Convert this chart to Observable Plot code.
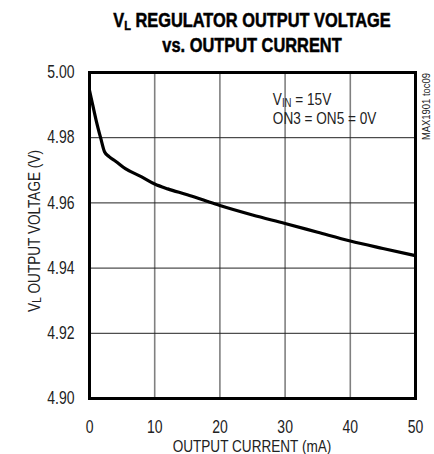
<!DOCTYPE html>
<html><head><meta charset="utf-8">
<script src="https://cdn.jsdelivr.net/npm/d3@7"></script>
<script src="https://cdn.jsdelivr.net/npm/@observablehq/plot@0.6"></script>
<style>
body{margin:0;background:#fff;}
#title{width:434px;height:62px;box-sizing:border-box;padding:7.5px 0 0 70px;text-align:center;font-family:"Liberation Sans",Arial,sans-serif;font-weight:bold;font-size:19.5px;line-height:25px;color:#000;transform:scaleX(0.84);transform-origin:252px 0;-webkit-text-stroke:0.5px #000;white-space:nowrap;}
#title sub{font-size:13px;vertical-align:-3px;line-height:0;}
</style></head><body>
<div id="title">V<sub>L</sub> REGULATOR OUTPUT VOLTAGE<br>vs. OUTPUT CURRENT</div>
<div id="chart"></div>
<script>
// Output current (mA) and V_L output voltage (V)
const currentMA = [0, 0.5, 1, 1.7, 2.3, 3, 4, 5.5, 8, 10, 12, 15, 18, 20, 25, 30, 35, 40, 45, 50];
const voltageV  = [4.9945, 4.9900, 4.9855, 4.9800, 4.9757, 4.9742, 4.9728, 4.9705, 4.9680, 4.9658, 4.9643, 4.9625, 4.9605, 4.9592, 4.9563, 4.9537, 4.9510, 4.9483, 4.9460, 4.9438];
const xTicks = [0, 10, 20, 30, 40, 50];
const yTicks = [4.90, 4.92, 4.94, 4.96, 4.98, 5.00];
const xLabel = "OUTPUT CURRENT (mA)";
const yLabelMain = "V", yLabelSub = "L", yLabelRest = " OUTPUT VOLTAGE (V)";
const noteLine1 = ["V", "IN", " = 15V"];
const noteLine2 = "ON3 = ON5 = 0V";
const noteAt = {x: 28.2, y1: 4.9899, y2: 4.9841};
const figId = "MAX1901 toc09";

const data = currentMA.map((c, i) => ({c, v: voltageV[i]}));
const F = '"Liberation Sans",Arial,sans-serif';
const K = 0.8; // horizontal condensing of the text
const W = 434, H = 392, mT = 10, mB = 56, mL = 89, mR = 19;

const plot = Plot.plot({
  width: W, height: H, marginTop: mT, marginBottom: mB, marginLeft: mL, marginRight: mR,
  style: {fontFamily: F, fontSize: "17px", color: "#222", background: "#fff"},
  x: {domain: [0, 50], ticks: xTicks, label: null},
  y: {domain: [4.90, 5.00], ticks: yTicks, label: null},
  marks: [
    Plot.gridX(xTicks, {stroke: "#808080", strokeWidth: 1.6, strokeOpacity: 1}),
    Plot.gridY(yTicks, {stroke: "#222", strokeWidth: 1, strokeOpacity: 1}),
    Plot.line(data, {x: "c", y: "v", stroke: "#000", strokeWidth: 3.2, curve: "monotone-x"}),
    Plot.frame({stroke: "#000", strokeWidth: 3}),
    Plot.axisX(xTicks, {tickSize: 0, tickPadding: 17, dy: 5, fontSize: 17.5, label: null}),
    Plot.axisY(yTicks, {tickSize: 0, tickPadding: 15, fontSize: 17.5, label: null, tickFormat: d => d.toFixed(2)})
  ]
});
document.getElementById("chart").appendChild(plot);

// condense Plot's tick labels horizontally about their anchor point
d3.select(plot).selectAll("text").each(function() {
  const bb = this.getBBox();
  const a = getComputedStyle(this).textAnchor;
  const ax = a === "end" ? bb.x + bb.width : a === "middle" ? bb.x + bb.width / 2 : bb.x;
  const t = this.getAttribute("transform") || "";
  this.setAttribute("transform", `${t} translate(${ax},0) scale(${K},1) translate(${-ax},0)`);
});

const sx = plot.scale("x"), sy = plot.scale("y");
const svg = d3.select(plot);
const g = svg.append("g").attr("font-family", F).attr("fill", "#222");

// x axis label
g.append("text").attr("transform", `translate(${(mL + W - mR) / 2},${H - 2}) scale(${K},1)`)
  .attr("text-anchor", "middle").attr("font-size", 17).text(xLabel);

// y axis label with subscript
const yl = g.append("text")
  .attr("transform", `translate(33,${(mT + H - mB) / 2 - 4}) rotate(-90) scale(${K},1)`)
  .attr("text-anchor", "middle").attr("dominant-baseline", "central").attr("font-size", 17);
yl.append("tspan").text(yLabelMain);
yl.append("tspan").attr("font-size", 12.5).attr("dy", 4).text(yLabelSub);
yl.append("tspan").attr("dy", -4).text(yLabelRest);

// annotation
const n1 = g.append("text").attr("text-anchor", "start")
  .attr("transform", `translate(${sx.apply(noteAt.x)},${sy.apply(noteAt.y1)}) scale(${K},1)`).attr("font-size", 17);
n1.append("tspan").text(noteLine1[0]);
n1.append("tspan").attr("font-size", 12).attr("dy", 2.5).text(noteLine1[1]);
n1.append("tspan").attr("dy", -2.5).text(noteLine1[2]);
g.append("text").attr("text-anchor", "start")
  .attr("transform", `translate(${sx.apply(noteAt.x)},${sy.apply(noteAt.y2)}) scale(${K},1)`)
  .attr("font-size", 17).text(noteLine2);

// figure id, rotated at right
g.append("text")
  .attr("transform", `translate(${W - mR + 11},${mT + 1}) rotate(-90) scale(0.9,1)`)
  .attr("text-anchor", "end").attr("dominant-baseline", "central").attr("font-size", 10.5)
  .text(figId);
</script>
</body></html>
